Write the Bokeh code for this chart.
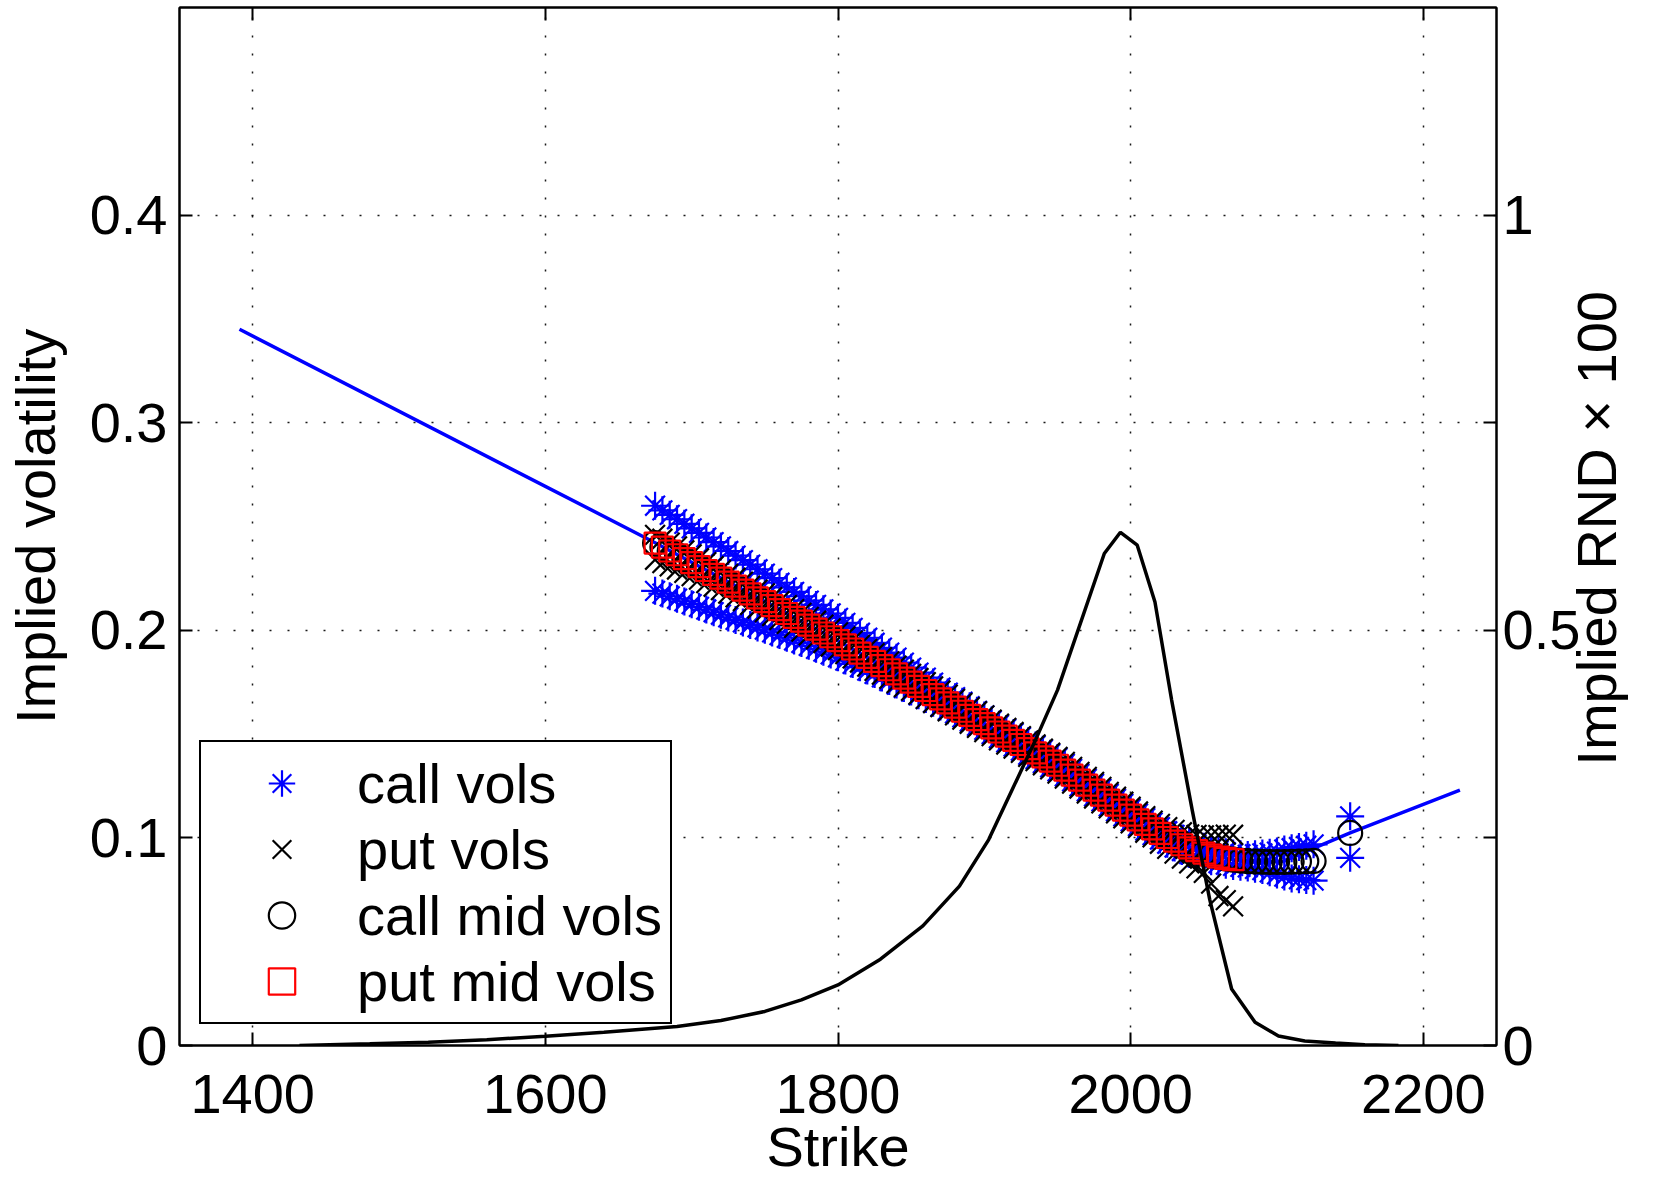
import math
from bokeh.plotting import figure
from bokeh.models import Range1d, LinearAxis, FixedTicker, Legend, LegendItem
from bokeh.embed import file_html
from bokeh.resources import INLINE

FONT = "Liberation Sans"

# ---------------- data ----------------
call_strikes = [1675, 1680, 1685, 1690, 1695, 1700, 1705, 1710, 1715, 1720,
                1725, 1730, 1735, 1740, 1745, 1750, 1755, 1760, 1765, 1770,
                1775, 1780, 1785, 1790, 1795, 1800, 1805, 1810, 1815, 1820,
                1825, 1830, 1835, 1840, 1845, 1850, 1855, 1860, 1865, 1870,
                1875, 1880, 1885, 1890, 1895, 1900, 1905, 1910, 1915, 1920,
                1925, 1930, 1935, 1940, 1945, 1950, 1955, 1960, 1965, 1970,
                1975, 1980, 1985, 1990, 1995, 2000, 2005, 2010, 2015, 2020,
                2025, 2030, 2035, 2040, 2045, 2050, 2055, 2060, 2065, 2070,
                2075, 2080, 2085, 2090, 2095, 2100, 2105, 2110, 2115, 2120,
                2125, 2150]

call_mid = [.2420, .2401, .2382, .2364, .2345, .2326, .2307, .2288, .2269, .2251,
            .2232, .2213, .2194, .2175, .2156, .2138, .2119, .2100, .2081, .2062,
            .2044, .2025, .2006, .1987, .1969, .1950, .1930, .1910, .1890, .1870,
            .1850, .1830, .1810, .1790, .1770, .1750, .1730, .1710, .1690, .1670,
            .1650, .1630, .1610, .1590, .1570, .1550, .1530, .1510, .1490, .1470,
            .1450, .1430, .1410, .1390, .1370, .1350, .1326, .1302, .1278, .1254,
            .1230, .1206, .1182, .1158, .1134, .1110, .1087, .1065, .1043, .1022,
            .1002, .0984, .0967, .0952, .0939, .0927, .0917, .0908, .0901, .0895,
            .0891, .0888, .0886, .0885, .0884, .0884, .0884, .0885, .0886, .0887,
            .0889, .1024]

call_ask = [.2600, .2578, .2556, .2535, .2513, .2491, .2469, .2447, .2425, .2404,
            .2382, .2360, .2338, .2316, .2294, .2273, .2251, .2229, .2207, .2185,
            .2164, .2143, .2122, .2101, .2081, .2060, .2036, .2012, .1988, .1964,
            .1940, .1916, .1892, .1868, .1844, .1820, .1796, .1772, .1748, .1724,
            .1700, .1678, .1656, .1634, .1612, .1590, .1565, .1545, .1525, .1505,
            .1485, .1465, .1445, .1425, .1405, .1385, .1356, .1332, .1308, .1284,
            .1260, .1236, .1212, .1188, .1164, .1140, .1117, .1095, .1073, .1052,
            .1032, .1014, .0997, .0982, .0969, .0957, .0947, .0938, .0931, .0925,
            .0921, .0918, .0921, .0925, .0929, .0934, .0944, .0950, .0956, .0962,
            .0969, .1104]

call_bid = [.2190, .2177, .2164, .2152, .2139, .2126, .2113, .2100, .2087, .2075,
            .2062, .2050, .2038, .2026, .2014, .2003, .1990, .1977, .1964, .1951,
            .1939, .1925, .1911, .1897, .1884, .1870, .1854, .1838, .1822, .1806,
            .1790, .1773, .1756, .1739, .1722, .1705, .1687, .1669, .1651, .1633,
            .1615, .1600, .1580, .1560, .1540, .1520, .1500, .1480, .1460, .1440,
            .1420, .1400, .1380, .1360, .1340, .1320, .1296, .1272, .1248, .1224,
            .1200, .1176, .1152, .1128, .1104, .1080, .1057, .1035, .1013, .0992,
            .0972, .0954, .0937, .0922, .0909, .0897, .0887, .0878, .0871, .0865,
            .0861, .0858, .0851, .0845, .0834, .0824, .0814, .0805, .0801, .0797,
            .0794, .0904]

put_strikes = [1675, 1680, 1685, 1690, 1695, 1700, 1705, 1710, 1715, 1720,
               1725, 1730, 1735, 1740, 1745, 1750, 1755, 1760, 1765, 1770,
               1775, 1780, 1785, 1790, 1795, 1800, 1805, 1810, 1815, 1820,
               1825, 1830, 1835, 1840, 1845, 1850, 1855, 1860, 1865, 1870,
               1875, 1880, 1885, 1890, 1895, 1900, 1905, 1910, 1915, 1920,
               1925, 1930, 1935, 1940, 1945, 1950, 1955, 1960, 1965, 1970,
               1975, 1980, 1985, 1990, 1995, 2000, 2005, 2010, 2015, 2020,
               2025, 2030, 2035, 2040, 2045, 2050, 2055, 2060, 2065, 2070]

put_mid = [.2420, .2401, .2382, .2364, .2345, .2326, .2307, .2288, .2269, .2251,
           .2232, .2213, .2194, .2175, .2156, .2138, .2119, .2100, .2081, .2062,
           .2044, .2025, .2006, .1987, .1969, .1950, .1930, .1910, .1890, .1870,
           .1850, .1830, .1810, .1790, .1770, .1750, .1730, .1710, .1690, .1670,
           .1650, .1630, .1610, .1590, .1570, .1550, .1530, .1510, .1490, .1470,
           .1450, .1430, .1410, .1390, .1370, .1350, .1326, .1302, .1278, .1254,
           .1230, .1206, .1182, .1158, .1134, .1110, .1087, .1065, .1043, .1022,
           .1002, .0984, .0967, .0952, .0939, .0927, .0917, .0908, .0901, .0895]

put_ask = [.2460, .2441, .2422, .2404, .2385, .2366, .2347, .2328, .2309, .2291,
           .2272, .2253, .2234, .2215, .2196, .2178, .2159, .2140, .2121, .2102,
           .2084, .2065, .2046, .2027, .2009, .1990, .1970, .1950, .1930, .1910,
           .1890, .1870, .1850, .1830, .1810, .1790, .1770, .1750, .1730, .1710,
           .1690, .1670, .1650, .1630, .1610, .1590, .1570, .1550, .1530, .1510,
           .1490, .1470, .1450, .1430, .1410, .1390, .1366, .1342, .1318, .1294,
           .1270, .1246, .1222, .1198, .1174, .1150, .1127, .1105, .1083, .1067,
           .1052, .1039, .1027, .1017, .1014, .1012, .1012, .1013, .1016, .1015]

put_bid = [.2340, .2324, .2308, .2293, .2277, .2261, .2244, .2227, .2210, .2194,
           .2177, .2159, .2141, .2123, .2105, .2088, .2069, .2050, .2031, .2012,
           .1994, .1976, .1957, .1939, .1922, .1905, .1885, .1865, .1845, .1825,
           .1805, .1786, .1766, .1746, .1726, .1710, .1690, .1670, .1650, .1630,
           .1610, .1590, .1570, .1550, .1530, .1510, .1490, .1470, .1450, .1430,
           .1410, .1390, .1370, .1350, .1330, .1310, .1286, .1262, .1238, .1214,
           .1190, .1166, .1142, .1118, .1094, .1070, .1047, .1025, .1003, .0972,
           .0947, .0924, .0900, .0877, .0853, .0832, .0780, .0720, .0700, .0670]

fit_strike = [1391, 1675, 1800, 1950, 2000, 2040, 2070, 2095, 2105, 2120, 2150, 2225]
fit_vol = [.345, .2422, .195, .135, .111, .0952, .0895, .0884, .0889, .0935, .1024, .123]

rnd_strike = [1432, 1480, 1520, 1560, 1600, 1640, 1690, 1720, 1750, 1775,
              1800, 1829, 1858, 1883, 1903, 1919, 1935, 1950, 1982, 1993,
              2004.5, 2016.6, 2028, 2042, 2054, 2069, 2085, 2101, 2119, 2140,
              2160, 2183]
rnd_value = [0.000, 0.002, 0.004, 0.007, 0.011, 0.016, 0.023, 0.030, 0.041, 0.055,
             0.073, 0.104, 0.144, 0.192, 0.248, 0.308, 0.368, 0.428, 0.5925, 0.618,
             0.6025, 0.534, 0.416, 0.284, 0.176, 0.068, 0.028, 0.0115, 0.0055, 0.003,
             0.001, 0.000]

x_ticks = [1400, 1600, 1800, 2000, 2200]
y_ticks = [0, 0.1, 0.2, 0.3, 0.4]
y_tick_labels = ["0", "0.1", "0.2", "0.3", "0.4"]
r_ticks = [0, 0.25, 0.5, 0.75, 1.0]
r_tick_labels = ["0", "", "0.5", "", "1"]
r_title = "Implied RND \u00d7 100"
r_title_start = 0.337   # lower end of the right-hand title, in RND units

# ---------------- figure ----------------
p = figure(width=1664, height=1180, output_backend="svg", toolbar_location=None,
           x_range=Range1d(1350, 2250), y_range=Range1d(0, 0.5),
           min_border_left=179, min_border_right=168, min_border_top=7,
           min_border_bottom=134, background_fill_color="white",
           border_fill_color="white")
p.outline_line_color = "black"
p.outline_line_width = 2
p.outline_line_alpha = 1
p.extra_y_ranges = {"rnd": Range1d(0, 1.25)}

xa = p.xaxis[0]
ya = p.yaxis[0]
ra = LinearAxis(y_range_name="rnd")
p.add_layout(ra, "right")
ra2 = LinearAxis(y_range_name="rnd")
p.add_layout(ra2, "right")
ta = LinearAxis()
p.add_layout(ta, "above")


def style(ax, standoff):
    ax.axis_line_color = "black"
    ax.axis_line_width = 2
    ax.major_tick_in = 13
    ax.major_tick_out = 0
    ax.major_tick_line_width = 2
    ax.major_tick_line_color = "black"
    ax.minor_tick_line_color = None
    ax.major_label_text_font = FONT
    ax.major_label_text_font_size = "56px"
    ax.major_label_text_color = "black"
    ax.major_label_standoff = standoff
    ax.axis_label_text_font = FONT
    ax.axis_label_text_font_size = "56px"
    ax.axis_label_text_font_style = "normal"
    ax.axis_label_text_color = "black"


def set_standoff(ax, v):
    try:
        ax.axis_label_standoff = v
    except Exception:
        ax.axis_label_standoff = 0


style(xa, 29)
style(ya, 12)
style(ra, 6)
style(ta, 0)
style(ra2, 13)
xa.ticker = FixedTicker(ticks=x_ticks)
ta.ticker = FixedTicker(ticks=x_ticks)
ta.major_label_text_font_size = "1px"
ta.major_label_text_alpha = 0
ya.ticker = FixedTicker(ticks=y_ticks)
ya.major_label_overrides = {t: s for t, s in zip(y_ticks, y_tick_labels)}
ra.ticker = FixedTicker(ticks=r_ticks)
ra.major_label_overrides = {t: s for t, s in zip(r_ticks, r_tick_labels)}

# right-hand title drawn as the single label of an otherwise invisible axis
ra2.ticker = FixedTicker(ticks=[r_title_start])
ra2.major_label_overrides = {r_title_start: r_title}
ra2.major_label_orientation = math.pi / 2
ra2.axis_line_color = None
ra2.major_tick_line_color = None
ra2.major_tick_in = 0

xa.axis_label = "Strike"
set_standoff(xa, -1)
ya.axis_label = "Implied volatility"
set_standoff(ya, 20)

p.xgrid.ticker = FixedTicker(ticks=x_ticks)
p.ygrid.ticker = FixedTicker(ticks=y_ticks[1:])
for g in (p.xgrid, p.ygrid):
    g.grid_line_color = "black"
    g.grid_line_dash = "2 16"
    g.grid_line_width = 1.5
    g.grid_line_alpha = 0.9

# ---------------- glyphs ----------------
p.line(fit_strike, fit_vol, line_color=(0, 0, 255), line_width=3.5)

r_call = p.scatter(call_strikes + call_strikes, call_ask + call_bid, marker="asterisk",
                   size=28, line_color=(0, 0, 255), line_width=2.2)
r_put = p.scatter(put_strikes + put_strikes, put_ask + put_bid, marker="x",
                  size=28, line_color="black", line_width=2.2)
r_cmid = p.scatter(call_strikes, call_mid, marker="circle", size=24,
                   line_color="black", fill_color=None, line_width=2.2)
r_pmid = p.scatter(put_strikes, put_mid, marker="square", size=21,
                   line_color=(255, 0, 0), fill_color=None, line_width=2.2)

p.line(rnd_strike, rnd_value, y_range_name="rnd", line_color="black", line_width=3.5)

legend = Legend(items=[LegendItem(label="call vols", renderers=[r_call]),
                       LegendItem(label="put vols", renderers=[r_put]),
                       LegendItem(label="call mid vols", renderers=[r_cmid]),
                       LegendItem(label="put mid vols", renderers=[r_pmid])],
                location=(20, 21), margin=0, padding=8, spacing=0,
                glyph_width=145, glyph_height=66, label_height=66, label_standoff=3,
                label_text_font=FONT, label_text_font_size="56px",
                label_text_color="black", border_line_color="black",
                border_line_width=2, border_line_alpha=1,
                background_fill_color="white", background_fill_alpha=1)
p.add_layout(legend)

open("out.html", "w").write(file_html(p, INLINE))
